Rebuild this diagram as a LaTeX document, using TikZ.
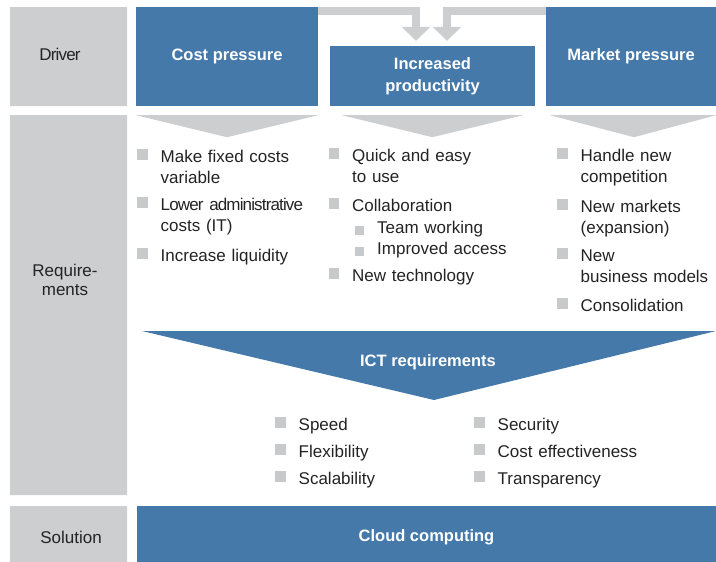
\documentclass[tikz,border=0pt]{standalone}
\usepackage{fontspec}
\setmainfont{Liberation Sans}
\usetikzlibrary{positioning,arrows.meta}
\definecolor{tblue}{RGB}{68,121,170}
\definecolor{tgray}{RGB}{205,206,208}
\definecolor{bgray}{RGB}{200,201,203}
\definecolor{ttext}{RGB}{35,35,35}
\newcommand{\tightsp}{\addfontfeatures{LetterSpace=-5}}
\tikzset{
	rowlab/.style={inner sep=0, text=ttext, align=center, font=\fontsize{17}{18.5}\selectfont},
	box/.style={fill=tblue, text=white, inner sep=0, align=center, font=\bfseries\fontsize{16.5}{22}\selectfont},
	feed/.style={tgray, line width=8, -{Triangle[width=28pt,length=14pt]}},
	bul/.style={fill=bgray, minimum size=10.5, inner sep=0},
	sbul/.style={fill=bgray, minimum size=9.5, inner sep=0},
	item/.style={anchor=base west, inner sep=0, text=ttext, text width=165, align=left, font=\fontsize{17}{21.5}\selectfont}
}
\begin{document}
\begin{tikzpicture}[x=1pt,y=-1pt]
	\useasboundingbox (0,0) rectangle (716,562);
	\fill[tgray] (10,7) rectangle (127,106) (10,115) rectangle (127,495) (10,506) rectangle (127,562); % row labels
	\node[rowlab] (drv) at (60,54) {\tightsp Driver};
	\node[rowlab] (req) at (65,280) {Require-\\ments};
	\node[rowlab] (sol) at (71,537) {Solution};
	% drivers
	\node[box, minimum width=182, minimum height=99] (cost) at (227,56.5) {Cost pressure};
	\node[box, minimum width=205, minimum height=60] (prod) at (432.5,76) {Increased\\productivity};
	\node[box, minimum width=170, minimum height=99] (mkt) at (631,56.5) {Market pressure};
	\draw[feed] ([yshift=-4]cost.north east) -| ([xshift=-16.5,yshift=5]prod.north);
	\draw[feed] ([yshift=-4]mkt.north west) -| ([xshift=14.5,yshift=5]prod.north);
	% chevrons
	\fill[tgray] ([yshift=-9]cost.south west) -- ([yshift=-9]cost.south east) -- ([yshift=-31]cost.south) -- cycle;
	\fill[tgray] ([xshift=12,yshift=-9]prod.south west) -- ([xshift=-12,yshift=-9]prod.south east) -- ([yshift=-31]prod.south) -- cycle;
	\fill[tgray] ([xshift=4,yshift=-9]mkt.south west) -- ([yshift=-9]mkt.south east) -- ([xshift=3,yshift=-31]mkt.south) -- cycle;
	% requirements
	\foreach \bx/\y/\txt [count=\i] in {142.5/162/{Make fixed costs\\variable},142.5/210/{{\tightsp Lower administrative}\\costs (IT)},142.5/261/{Increase liquidity},
		334/161/{Quick and easy\\to use},334/211/{Collaboration},334/281/{New technology},
		562.5/161/{Handle new\\competition},562.5/212/{New markets\\(expansion)},562.5/261/{New\\business models},562.5/311/{Consolidation},
		280.5/430/{Speed},280.5/457/{Flexibility},280.5/484/{Scalability},
		479.5/430/{Security},479.5/457/{Cost effectiveness},479.5/484/{Transparency}}{
		\node[bul] (b\i) at (\bx,\y-7.5) {};
		\node[item] (t\i) at (\bx+18,\y) {\txt};
	}
	\foreach \y/\txt [count=\i] in {233/{Team working},254/{Improved access}}{
		\node[sbul] (sb\i) at (359.5,\y-2.5) {};
		\node[item] (st\i) at (377,\y) {\txt};
	}
	% ICT
	\fill[tblue] (142,331) -- (716,331) -- (434,400) -- cycle;
	\node[box, fill=none] (ict) at (428,362) {ICT requirements};
	\node[box, minimum width=579, minimum height=62] (cloud) at (426.5,537) {Cloud computing};
\end{tikzpicture}
\end{document}
